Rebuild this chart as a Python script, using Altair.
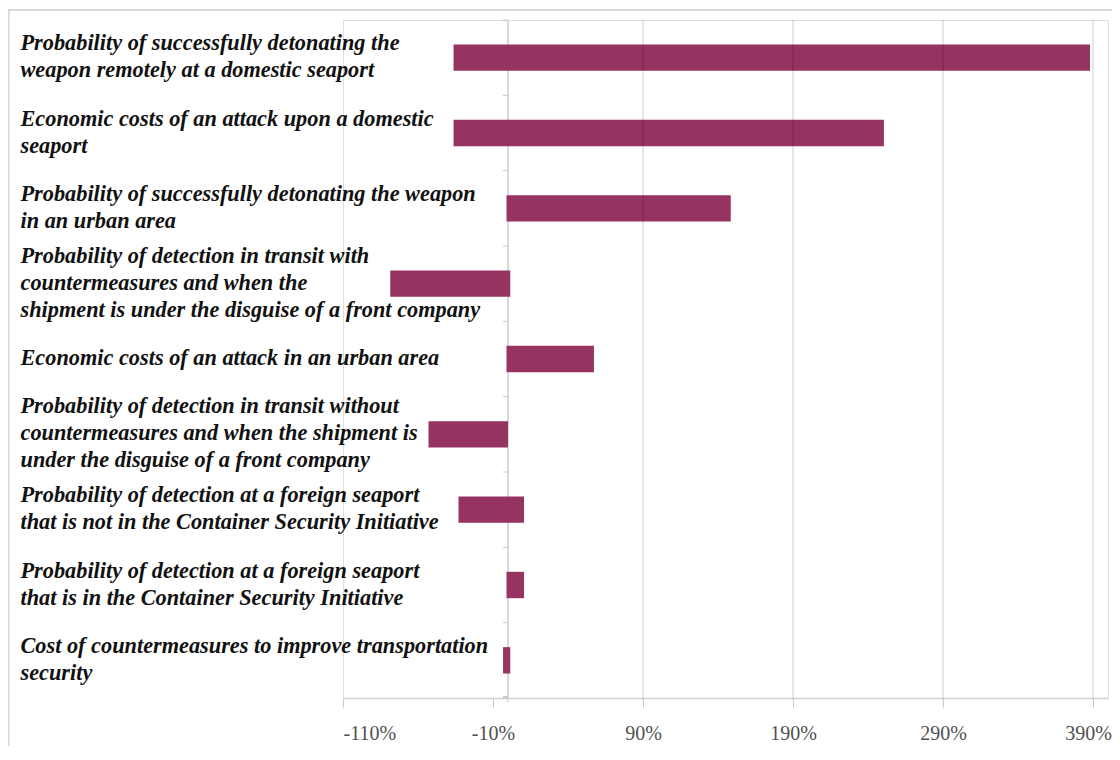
import altair as alt
import pandas as pd

categories = [
    "Probability of successfully detonating the|weapon remotely at a domestic seaport",
    "Economic costs of an attack upon a domestic|seaport",
    "Probability of successfully detonating the weapon|in an urban area",
    "Probability of detection in transit  with|countermeasures and when the|shipment is under the disguise of a front company",
    "Economic costs of an attack in an urban area",
    "Probability of detection in transit  without|countermeasures and when the shipment is|under the disguise of a front company",
    "Probability of detection at a foreign seaport|that is not in the Container Security Initiative",
    "Probability of detection at a foreign seaport|that is in the Container Security Initiative",
    "Cost of countermeasures to improve transportation|security",
]
low_pct = [-36.3, -36.3, -1.0, -78.5, -1.0, -53.0, -33.0, -1.0, -3.3]
high_pct = [388.0, 250.6, 148.5, 1.5, 57.3, 0.0, 10.7, 10.7, 1.5]
tick_values = [-110, -10, 90, 190, 290, 390]
grid_values = [90, 190, 290, 390]
x_domain = [-110, 400]

W, H = 765, 678
LH = 27
X0 = W * 110 / 510  # pixel position of the 0% category axis

bars_df = pd.DataFrame({"cat": categories, "low": low_pct, "high": high_pct})
grid_df = pd.DataFrame({"v": grid_values})
xscale = alt.Scale(domain=x_domain, nice=False, zero=False)

bars = alt.Chart(bars_df).mark_bar(color="#963361").encode(
    x=alt.X(
        "low:Q",
        scale=xscale,
        axis=alt.Axis(
            values=tick_values,
            labelExpr="datum.value + '%'",
            labelOffset=alt.ExprRef(expr="datum.value == 390 ? -5 : 0"),
            grid=False,
            domainColor="#d0d0d0",
            domainWidth=1.5,
            tickColor="#c8c8c8",
            tickSize=9,
            labelFont="Liberation Serif",
            labelFontSize=20,
            labelColor="#505050",
            labelPadding=16,
            title=None,
        ),
    ),
    x2="high:Q",
    y=alt.Y(
        "cat:N",
        sort=categories,
        scale=alt.Scale(paddingInner=0.65, paddingOuter=0.325),
        axis=alt.Axis(
            domain=False,
            ticks=False,
            labelExpr="split(datum.value, '|')",
            labelAlign="left",
            labelBaseline="middle",
            labelOffset=alt.ExprRef(expr=f"-(length(split(datum.value, '|')) - 1) * {LH / 2} - 1"),
            labelPadding=323,
            labelLimit=0,
            labelFont="Liberation Serif",
            labelFontStyle="italic",
            labelFontWeight="bold",
            labelFontSize=22.3,
            labelLineHeight=LH,
            labelColor="#111111",
            title=None,
        ),
    ),
)

# category axis line at 0% with small ticks between the categories
zero_line = alt.Chart(grid_df).mark_rule(color="#d9d9d9", strokeWidth=1.5).encode(
    x=alt.datum(0, scale=xscale), y=alt.value(0), y2=alt.value(H + 4)
)
sep_ticks = alt.Chart(bars_df).mark_rule(color="#c8c8c8", strokeWidth=1).encode(
    y=alt.Y(
        "cat:N",
        sort=categories,
        bandPosition=0,
        scale=alt.Scale(paddingInner=0, paddingOuter=0),
        axis=None,
    ),
    x=alt.value(X0 - 5),
    x2=alt.value(X0),
)
sep_last = alt.Chart(grid_df).mark_rule(color="#c8c8c8", strokeWidth=1).encode(
    y=alt.value(H - 1), x=alt.value(X0 - 5), x2=alt.value(X0)
)

grid = alt.Chart(grid_df).mark_rule(color="black", opacity=0.13, strokeWidth=1.5).encode(
    x=alt.X("v:Q", scale=xscale),
    y=alt.value(0),
    y2=alt.value(H + 1),
)

border_top = alt.Chart(grid_df).mark_rule(color="#d9d9d9", strokeWidth=1.5).encode(
    x=alt.value(-334.5), x2=alt.value(W + 12), y=alt.value(-10)
)
border_left = alt.Chart(grid_df).mark_rule(color="#d9d9d9", strokeWidth=1.5).encode(
    x=alt.value(-334.5), y=alt.value(-10), y2=alt.value(H + 70)
)

chart = (
    alt.layer(zero_line, bars, sep_ticks, sep_last, grid, border_top, border_left)
    .resolve_scale(y="independent")
    .properties(
        width=W,
        height=H,
        autosize=alt.AutoSizeParams(type="none"),
        padding={"left": 335, "top": 12, "right": 4, "bottom": 48},
    )
    .configure_view(strokeWidth=0, strokeOpacity=0)
    .configure(background="white")
)

chart.save("out.html", embed_options={"renderer": "svg", "actions": False})
